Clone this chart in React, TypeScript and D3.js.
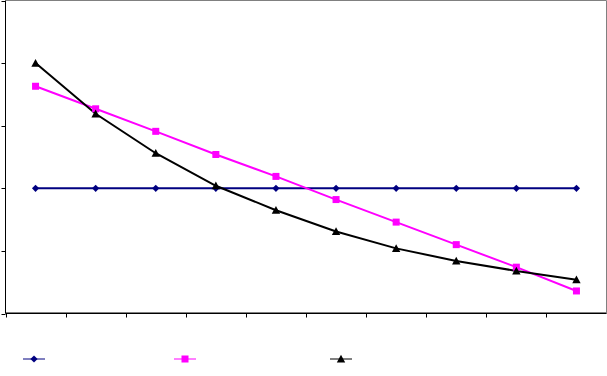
import React from "react";
import * as d3 from "d3";

const categories = ["1", "2", "3", "4", "5", "6", "7", "8", "9", "10"];
const seriesBlue = [2, 2, 2, 2, 2, 2, 2, 2, 2, 2];
const seriesPink = [3.63, 3.27, 2.91, 2.54, 2.19, 1.82, 1.46, 1.1, 0.74, 0.36];
const seriesBlack = [4.0, 3.19, 2.56, 2.04, 1.65, 1.31, 1.04, 0.84, 0.68, 0.54];
const yTicks = [0, 1, 2, 3, 4, 5];

const W = 607;
const H = 376;
const left = 5.5;
const right = 606.5;
const top = 0.5;
const bottom = 313.5;

export default function App() {
  const x = d3.scaleBand<string>().domain(categories).range([left, right]).padding(0);
  const y = d3.scaleLinear().domain([0, 5]).range([bottom, top]);
  const cx = (c: string) => (x(c) as number) + x.bandwidth() / 2;
  const line = d3
    .line<number>()
    .x((_, i) => cx(categories[i]))
    .y((d) => y(d));

  const boundaries = d3.range(categories.length + 1).map((i) => left + i * x.bandwidth());

  const diamond = (px: number, py: number, s = 3.6) =>
    `M${px},${py - s}L${px + s},${py}L${px},${py + s}L${px - s},${py}Z`;
  const tri = (px: number, py: number, s = 4.2) =>
    `M${px},${py - s}L${px + s},${py + s * 0.85}L${px - s},${py + s * 0.85}Z`;

  const legendY = 359;
  const legend = [
    { x: 34, kind: "d", color: "#000080" },
    { x: 185, kind: "s", color: "#FF00FF" },
    { x: 341, kind: "t", color: "#000000" },
  ];

  const marker = (kind: string, px: number, py: number, color: string, key: string | number) => {
    if (kind === "d") return <path key={key} d={diamond(px, py)} fill={color} />;
    if (kind === "s") return <rect key={key} x={px - 3.5} y={py - 3.5} width={7} height={7} fill={color} />;
    return <path key={key} d={tri(px, py)} fill={color} />;
  };

  return (
    <svg
      width={W}
      height={H}
      style={{ position: "absolute", left: 0, top: 0, background: "#fff" }}
    >
      {/* frame top, right, bottom */}
      <line x1={left} x2={right} y1={top} y2={top} stroke="#808080" strokeWidth={1} />
      <line x1={right} x2={right} y1={top} y2={bottom} stroke="#808080" strokeWidth={1} />
      <line x1={left} x2={right} y1={bottom - 1} y2={bottom - 1} stroke="#808080" strokeWidth={1} />
      {/* y axis */}
      <line x1={left} x2={left} y1={top} y2={bottom} stroke="#000" strokeWidth={1} />
      {yTicks.map((t) => (
        <line key={t} x1={left - 4} x2={left} y1={Math.round(y(t)) + 0.5} y2={Math.round(y(t)) + 0.5} stroke="#000" />
      ))}
      {/* x axis */}
      <line x1={left} x2={right} y1={bottom} y2={bottom} stroke="#000" strokeWidth={1} />
      {boundaries.map((b, i) => (
        <line key={i} x1={Math.round(b) + 0.5} x2={Math.round(b) + 0.5} y1={bottom} y2={bottom + 4} stroke="#000" />
      ))}
      {/* series */}
      <path d={line(seriesBlue) || ""} fill="none" stroke="#000080" strokeWidth={2} />
      <path d={line(seriesPink) || ""} fill="none" stroke="#FF00FF" strokeWidth={2} />
      <path d={line(seriesBlack) || ""} fill="none" stroke="#000000" strokeWidth={2} />
      {seriesBlue.map((v, i) => marker("d", cx(categories[i]), y(v), "#000080", "b" + i))}
      {seriesPink.map((v, i) => marker("s", cx(categories[i]), y(v), "#FF00FF", "p" + i))}
      {seriesBlack.map((v, i) => marker("t", cx(categories[i]), y(v), "#000000", "k" + i))}
      {/* legend */}
      {legend.map((l, i) => (
        <g key={i}>
          <line x1={l.x - 11} x2={l.x + 11} y1={legendY} y2={legendY} stroke={l.color} strokeWidth={1} />
          {marker(l.kind, l.x, legendY, l.color, "l" + i)}
        </g>
      ))}
    </svg>
  );
}
